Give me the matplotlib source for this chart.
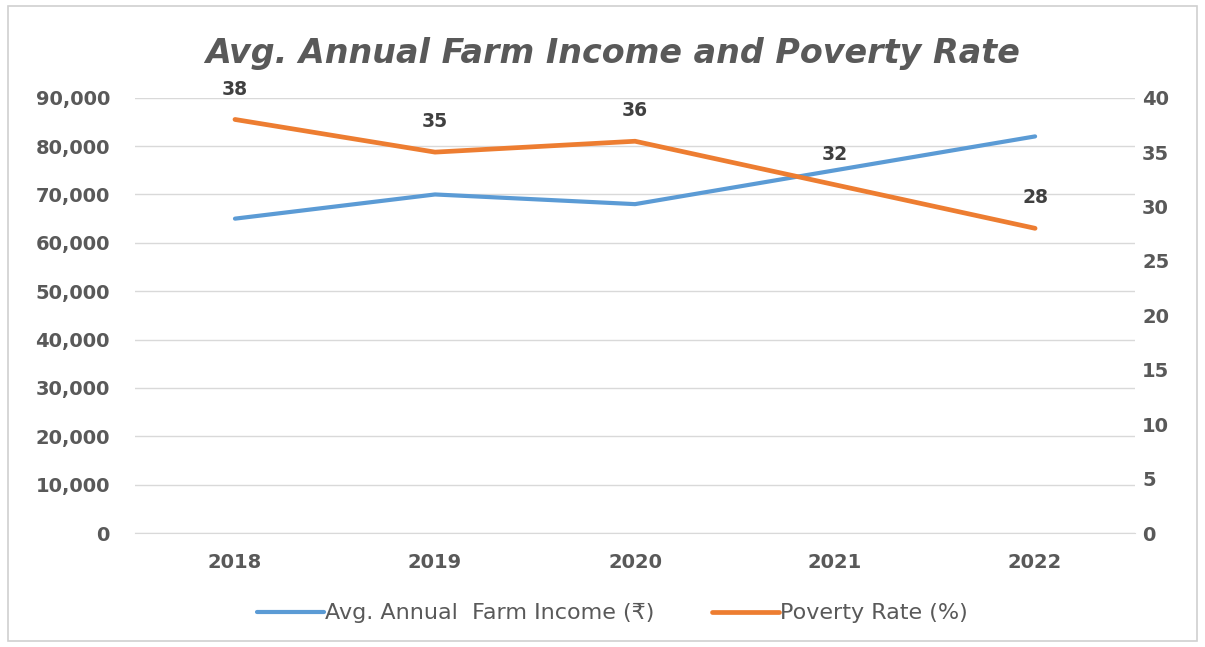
import matplotlib
matplotlib.use("Agg")
import matplotlib.pyplot as plt
from matplotlib.patches import Rectangle
from matplotlib.ticker import FuncFormatter, MultipleLocator

# chart data
years = ["2018", "2019", "2020", "2021", "2022"]
farm_income = [65000, 70000, 68000, 75000, 82000]
poverty_rate = [38, 35, 36, 32, 28]

income_label = "Avg. Annual  Farm Income (₹)"
poverty_label = "Poverty Rate (%)"
title = "Avg. Annual Farm Income and Poverty Rate"

blue = "#5B9BD5"
orange = "#ED7D31"
text_gray = "#595959"
grid_gray = "#D9D9D9"

plt.rcParams['font.family'] = ['DejaVu Sans']

fig = plt.figure(figsize=(12.05, 6.47), dpi=100)
fig.patches.append(Rectangle((0.007, 0.01), 0.986, 0.98, transform=fig.transFigure,
                             fill=False, edgecolor="#D0D0D0", linewidth=1.2))

ax = fig.add_axes([0.112, 0.176, 0.830, 0.673])
ax2 = ax.twinx()

x = list(range(len(years)))
ax.plot(x, farm_income, color=blue, linewidth=3.0, solid_capstyle="round",
        label=income_label, zorder=3)
ax2.plot(x, poverty_rate, color=orange, linewidth=3.4, solid_capstyle="round",
         label=poverty_label, zorder=3)

for xi, v in zip(x, poverty_rate):
    ax2.annotate(str(v), (xi, v), xytext=(0, 15), textcoords="offset points",
                 ha="center", va="bottom", fontsize=13.5, color="#404040",
                 fontweight="bold")

ax.set_xlim(-0.5, len(years) - 0.5)
ax.set_ylim(0, 90000)
ax2.set_ylim(0, 40)
ax.yaxis.set_major_locator(MultipleLocator(10000))
ax2.yaxis.set_major_locator(MultipleLocator(5))
ax.yaxis.set_major_formatter(FuncFormatter(lambda v, p: f"{int(v):,}"))

ax.set_xticks(x)
ax.set_xticklabels(years)
ax.grid(axis="y", color=grid_gray, linewidth=1.0)
ax.set_axisbelow(True)

for a in (ax, ax2):
    for s in a.spines.values():
        s.set_visible(False)
    a.tick_params(length=0, labelsize=14, labelcolor=text_gray)
    for lbl in a.get_yticklabels() + a.get_xticklabels():
        lbl.set_fontweight("bold")
ax.tick_params(axis="y", pad=18)
ax.tick_params(axis="x", pad=14)
ax2.tick_params(axis="y", pad=5)
ax.spines["bottom"].set_visible(True)
ax.spines["bottom"].set_color(grid_gray)

fig.text(0.508, 0.918, title, ha="center", va="center", fontsize=24,
         fontweight="bold", fontstyle="italic", color=text_gray)

h1, l1 = ax.get_legend_handles_labels()
h2, l2 = ax2.get_legend_handles_labels()
fig.legend(h1 + h2, l1 + l2, loc="center", bbox_to_anchor=(0.508, 0.052),
           ncol=2, frameon=False, fontsize=16, labelcolor=text_gray,
           handlelength=3.0, handletextpad=0.05, columnspacing=2.6)

fig.savefig("out.png", dpi=100, facecolor="white")
